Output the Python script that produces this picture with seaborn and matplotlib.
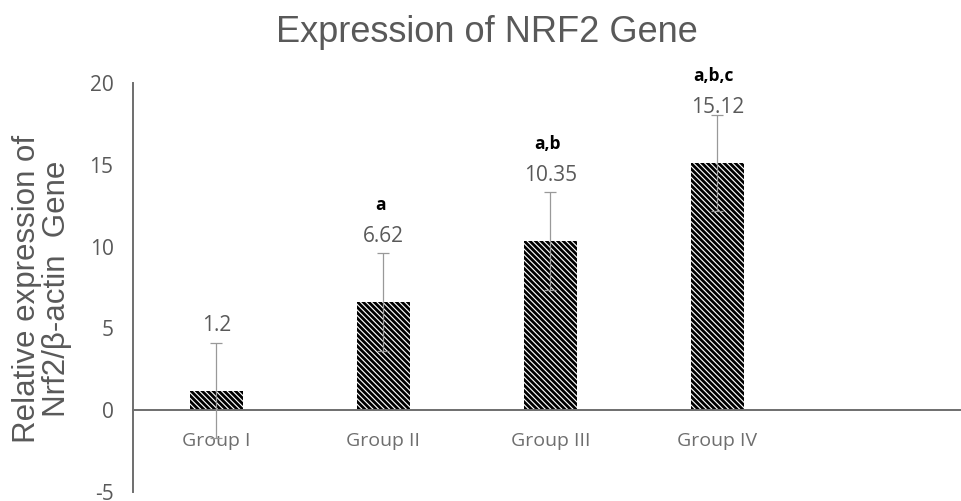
import matplotlib
matplotlib.use("Agg")
import matplotlib.pyplot as plt
import seaborn as sns
import numpy as np
import pandas as pd

# values
groups = ["Group I", "Group II", "Group III", "Group IV"]
expression = [1.2, 6.62, 10.35, 15.12]
error = [2.9, 3.0, 3.0, 2.95]
significance = ["", "a", "a,b", "a,b,c"]

df = pd.DataFrame({"group": groups, "expression": expression})

sns.set_style("white")
plt.rcParams["hatch.linewidth"] = 2.0
plt.rcParams["axes.unicode_minus"] = False
plt.rcParams["font.family"] = ["Open Sans", "DejaVu Sans"]

grey = "#595959"
fig = plt.figure(figsize=(9.61, 5.01), dpi=100)
ax = fig.add_axes([0.1384, 0.018, 0.8616, 0.8164])

sns.barplot(
    data=df, x="group", y="expression", order=groups, ax=ax,
    color="white", edgecolor="black", linewidth=0, hatch="\\" * 6,
    width=0.32, saturation=1, errorbar=None,
)

xpos = np.arange(len(groups))
ax.errorbar(xpos, expression, yerr=error, fmt="none", ecolor="#999999",
            elinewidth=0.9, capsize=4.5, capthick=0.9, zorder=5)

# value labels, the last one is kept under the significance letters
label_y = np.minimum(np.array(expression) + 4, 18.5)
for x, v, ly, s in zip(xpos, expression, label_y, significance):
    ax.text(x, ly, f"{v:g}", ha="center", va="center", fontsize=15,
            color=grey, zorder=6)
    if s:
        ax.text(x - 0.02, ly + 1.9, s, ha="center", va="center",
                fontsize=12.5, fontweight="bold", color="black", clip_on=False)

ax.set_ylim(-5, 20)
ax.set_yticks(range(-5, 21, 5))
ax.set_xlim(-0.5, 4.46)
ax.set_xlabel("")
ax.set_ylabel("")

for side in ["top", "right"]:
    ax.spines[side].set_visible(False)
ax.spines["bottom"].set_position(("data", 0))
for side in ["left", "bottom"]:
    ax.spines[side].set_color("#6e6e6e")
    ax.spines[side].set_linewidth(1.4)

ax.tick_params(axis="y", length=0, pad=14, labelsize=15, labelcolor=grey)
ax.tick_params(axis="x", length=0, pad=16, labelsize=14, labelcolor="#6e6e6e")

fig.text(0.507, 1 - 42 / 501, "Expression of NRF2 Gene", ha="center",
         va="baseline", fontsize=26, color=grey, family="Liberation Sans")
fig.text(42 / 961, 1 - 289 / 501, "Relative expression of\nNrf2/β-actin  Gene",
         rotation=90, ha="center", va="center", multialignment="center",
         fontsize=22.5, color=grey, family="Liberation Sans", linespacing=1.0)

fig.savefig("out.png", dpi=100)
